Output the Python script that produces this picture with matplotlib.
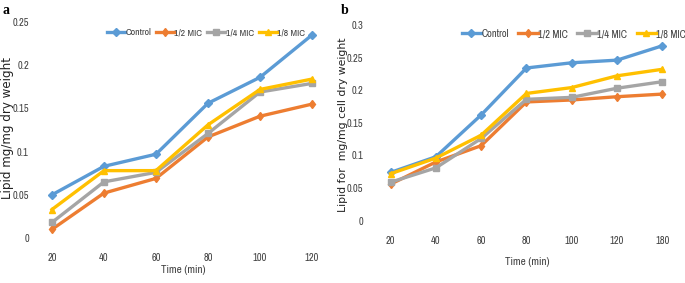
import matplotlib
matplotlib.use("Agg")
import matplotlib.pyplot as plt
from matplotlib import font_manager

# look for a narrow font (Excel charts use Calibri)
narrow = None
for f in font_manager.fontManager.ttflist:
    if ("Narrow" in f.name or "Condensed" in f.name) and f.weight in (400, "normal", "regular"):
        narrow = f.name
        break
narrow_stretch = "normal"
if narrow is None:
    for f in font_manager.fontManager.ttflist:
        if f.stretch in ("condensed", "semi-condensed") and f.name.startswith("DejaVu Sans"):
            narrow = f.name
            narrow_stretch = f.stretch
            break
if narrow is None:
    narrow = "Liberation Sans"

series = ["Control", "1/2 MIC", "1/4 MIC", "1/8 MIC"]
colors = ["#5B9BD5", "#ED7D31", "#A5A5A5", "#FFC000"]
markers = ["D", "d", "s", "^"]

times_a = ["20", "40", "60", "80", "100", "120"]
control_a = [0.050, 0.083, 0.097, 0.156, 0.186, 0.235]
half_a = [0.010, 0.052, 0.069, 0.117, 0.141, 0.155]
quarter_a = [0.018, 0.065, 0.076, 0.121, 0.169, 0.179]
eighth_a = [0.033, 0.078, 0.078, 0.131, 0.172, 0.184]

times_b = ["20", "40", "60", "80", "100", "120", "180"]
control_b = [0.074, 0.098, 0.162, 0.234, 0.242, 0.246, 0.268]
half_b = [0.056, 0.090, 0.115, 0.182, 0.185, 0.190, 0.194]
quarter_b = [0.059, 0.081, 0.126, 0.186, 0.189, 0.203, 0.213]
eighth_b = [0.072, 0.096, 0.131, 0.195, 0.204, 0.222, 0.232]

fig = plt.figure(figsize=(6.85, 2.83), dpi=100)
fp = dict(fontfamily=narrow, fontstretch=narrow_stretch)

def panel(rect, times, data, ylim, yticks, yticklabels, xlim, ylabel, ylabel_x, ylabel_y,
          ylabel_size, xlabel_xy, letter, letter_x, legend_anchor, leg_size, leg_colsp):
    ax = fig.add_axes(rect)
    x = list(range(len(times)))
    for vals, name, c, m in zip(data, series, colors, markers):
        ax.plot(x, vals, color=c, lw=2.4, marker=m, ms=4.5, mec=c, mfc=c,
                label=name, clip_on=False)
    ax.set_xlim(*xlim)
    ax.set_ylim(*ylim)
    ax.set_xticks(x)
    ax.set_xticklabels(times, fontsize=7.5, color="#404040", **fp)
    ax.set_yticks(yticks)
    ax.set_yticklabels(yticklabels, fontsize=7.5, color="#404040", **fp)
    ax.tick_params(length=0)
    ax.tick_params(axis="x", pad=11)
    ax.tick_params(axis="y", pad=8)
    for s in ax.spines.values():
        s.set_visible(False)
    fig.text(xlabel_xy[0], xlabel_xy[1], "Time (min)", fontsize=8, color="#404040",
             ha="center", va="center", **fp)
    fig.text(ylabel_x, ylabel_y, ylabel, rotation=90, fontsize=ylabel_size, ha="center",
             va="center", color="#222222")
    fig.text(letter_x, 0.985, letter, fontfamily="Liberation Serif", fontweight="bold",
             fontsize=10, va="top", ha="left")
    leg = ax.legend(loc="center", bbox_to_anchor=legend_anchor, bbox_transform=fig.transFigure,
                    ncol=4, frameon=False, handlelength=1.85, handletextpad=0.05,
                    columnspacing=leg_colsp, borderpad=0.2,
                    prop=font_manager.FontProperties(family=narrow, stretch=narrow_stretch, size=leg_size))
    for t in leg.get_texts():
        t.set_color("#404040")
    return ax

panel([0.0584, 0.159, 0.416, 0.763], times_a,
      [control_a, half_a, quarter_a, eighth_a],
      (0, 0.25), [0, 0.05, 0.1, 0.15, 0.2, 0.25], ["0", "0.05", "0.1", "0.15", "0.2", "0.25"],
      (-0.23, 5.25), "Lipid mg/mg dry weight", 0.011, 0.548, 8.6,
      (183 / 685, 1 - 270 / 283), "a", 0.003, (206 / 685, 1 - 33 / 283), 7.0, 0.5)

panel([0.547, 0.220, 0.445, 0.692], times_b,
      [control_b, half_b, quarter_b, eighth_b],
      (0, 0.3), [0, 0.05, 0.1, 0.15, 0.2, 0.25, 0.3], ["0", "0.05", "0.1", "0.15", "0.2", "0.25", "0.3"],
      (-0.35, 6.38), "Lipid for  mg/mg cell dry weight", 0.500, 0.560, 7.8,
      (527 / 685, 1 - 262 / 283), "b", 0.497, (574 / 685, 1 - 34 / 283), 7.5, 0.9)

fig.savefig("out.png", dpi=100)
